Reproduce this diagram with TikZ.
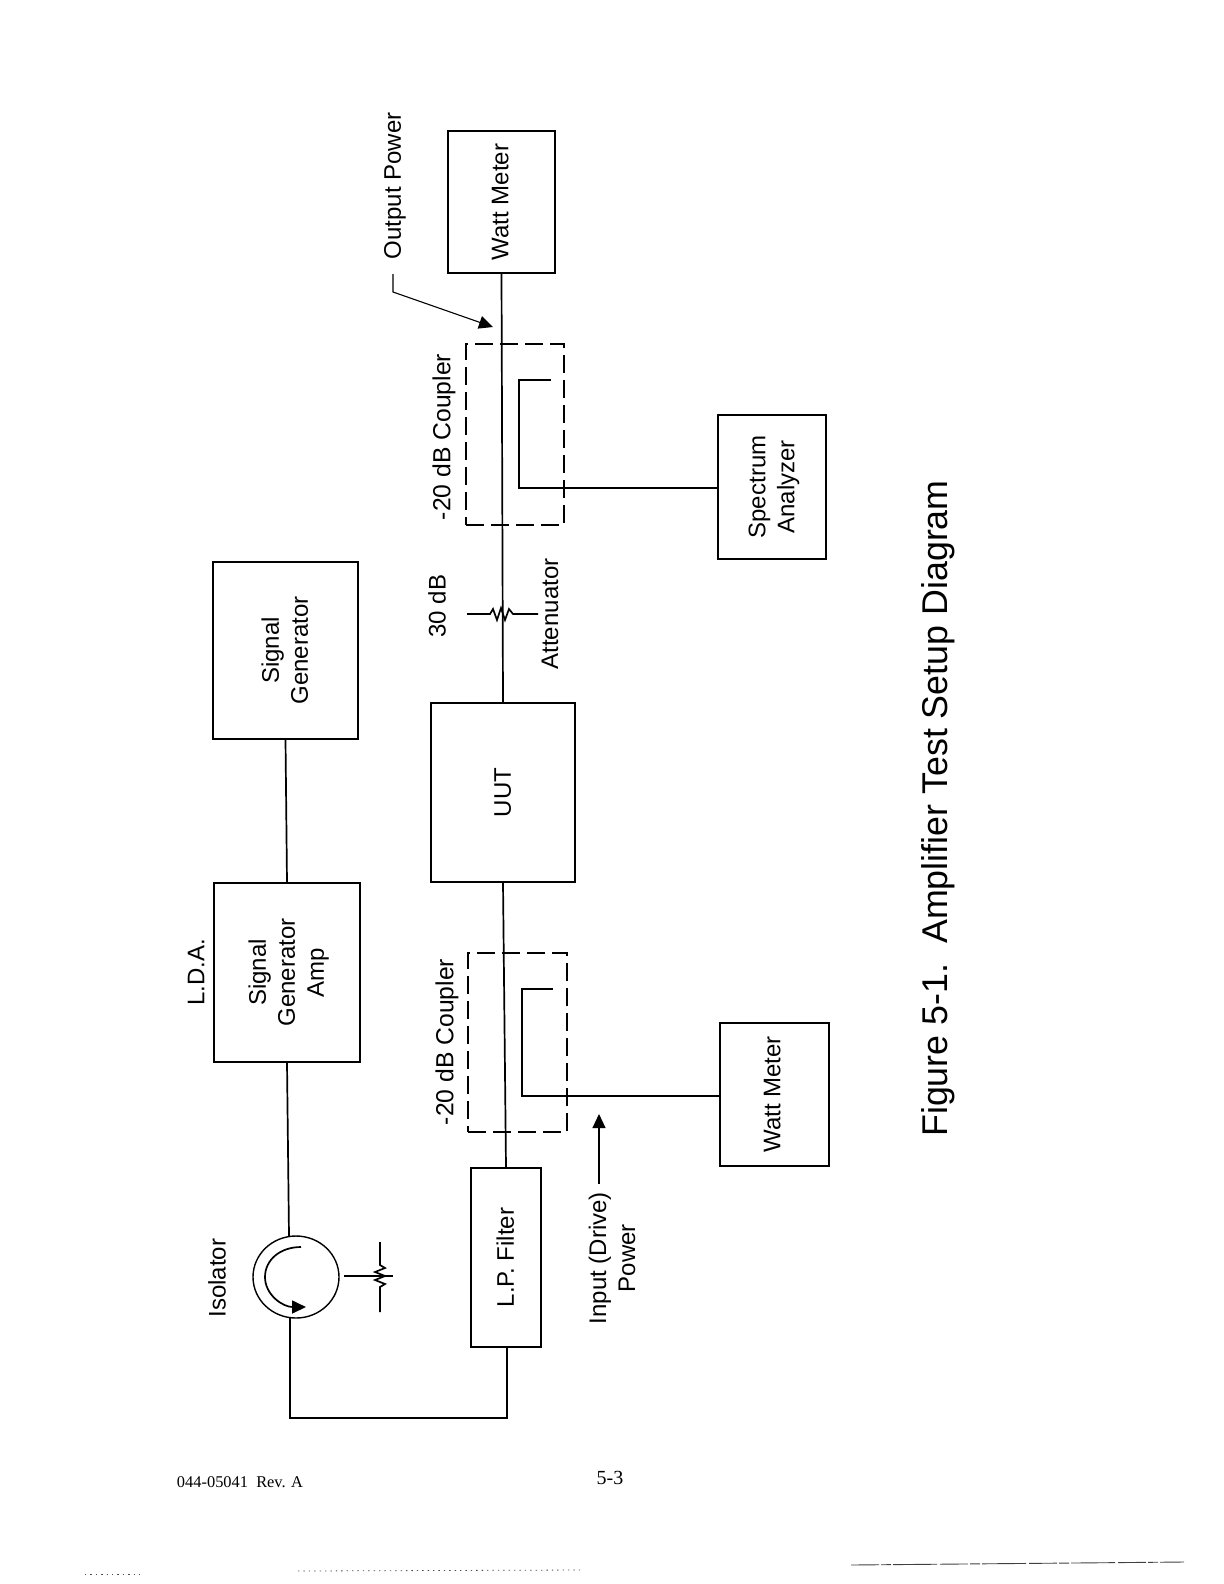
\documentclass[tikz,border=0pt]{standalone}
\usepackage{fontspec}
\setmainfont{Liberation Sans}
\newfontfamily\footfont{Liberation Serif}
\usetikzlibrary{arrows.meta}
\newcommand{\vtext}[2][2pt]{\kern#1\rotatebox{90}{\begin{tabular}{@{}c@{}}#2\end{tabular}}}
\tikzset{
  x=0.5pt,y=-0.5pt,
  wire/.style={line width=0.85pt,line join=miter},
  thinwire/.style={line width=0.55pt},
  box/.style={draw,line width=0.7pt,inner sep=0pt,font=\fontsize{12}{14.5}\selectfont},
  lab/.style={inner sep=0pt,font=\fontsize{12}{14.5}\selectfont},
  cplab/.style={inner sep=0pt,font=\fontsize{12.35}{14.5}\selectfont},
  couplerbox/.style={draw,line width=0.7pt,dash pattern=on 9pt off 3.5pt,inner sep=0pt},
  tip/.style={-{Triangle[length=7pt,width=6.5pt]}},
  noise/.style={line width=0.4pt,dash pattern=on 0.7pt off 2pt,black!70},
}
\begin{document}
\begin{tikzpicture}
\useasboundingbox (0,0) rectangle (1224,1584);
% boxes
\node[box,minimum width=72.5pt,minimum height=88.5pt] (siggen) at (285.5,650.5) {\vtext{Signal\\Generator}};
\node[box,minimum width=73pt,minimum height=89.5pt] (amp) at (287,972.5) {\vtext{Signal\\Generator\\Amp}};
\node[box,minimum width=35pt,minimum height=89.5pt] (lpf) at (506,1257.5) {\vtext[2pt]{L.P. Filter}};
\node[box,minimum width=72pt,minimum height=89.5pt] (uut) at (503,792.5) {\vtext{UUT}};
\node[box,minimum width=53.5pt,minimum height=71pt] (wmtop) at (501.5,202) {\vtext[1pt]{Watt Meter}};
\node[box,minimum width=54pt,minimum height=72pt] (sa) at (772,487) {\vtext{Spectrum\\Analyzer}};
\node[box,minimum width=54.5pt,minimum height=71.5pt] (wmlow) at (774.5,1094.5) {\vtext[0pt]{Watt Meter}};
\node[couplerbox,minimum width=49pt,minimum height=90.5pt] (cpltop) at (515,434.5) {};
\node[couplerbox,minimum width=49.5pt,minimum height=89.5pt] (cpllow) at (517.5,1042.5) {};
% isolator
\draw[line width=0.7pt] (296,1277) ellipse [x radius=43,y radius=41];
\coordinate (isoin) at (289,1236);
\coordinate (isoout) at (290,1318);
\coordinate (isobot) at (290,1418);
\coordinate (lpfbot) at (507,1347);
\coordinate (lpfcorner) at (507,1418);
\coordinate (isoarcstart) at (301,1247);
\draw[wire,tip] (isoarcstart) .. controls (280,1247) and (265,1260) .. (265,1277)
   .. controls (265,1295) and (283,1307) .. (306,1307);
% main connectors
\draw[wire] (siggen.south) -- (amp.north);
\draw[wire] (amp.south) -- (isoin);
\draw[wire] (isoout) -- (isobot) -- (lpfcorner) -- (lpfbot);
\draw[wire] (lpf.north) -- (uut.south);
\draw[wire] (uut.north) -- (wmtop.south);
% couplers' inner arms
\coordinate (topA) at (551,380);
\coordinate (topB) at (519,380);
\coordinate (topC) at (519,488);
\draw[wire] (topA) -- (topB) -- (topC) -- (sa.west |- topC);
\coordinate (lowA) at (553,989);
\coordinate (lowB) at (522,989);
\coordinate (lowC) at (522,1096);
\draw[wire] (lowA) -- (lowB) -- (lowC) -- (wmlow.west |- lowC);
% pointers
\coordinate (oplabelfoot) at (393,274);
\coordinate (opknee) at (393,292);
\coordinate (optip) at (493,327);
\draw[thinwire,tip] (oplabelfoot) -- (opknee) -- (optip);
\coordinate (inpfoot) at (599,1184);
\coordinate (inptip) at (599,1114);
\draw[thinwire,tip] (inpfoot) -- (inptip);
% attenuator
\coordinate (attL) at (467,614);
\coordinate (attR) at (538,614);
\draw[wire] (attL) -- (490,614) -- (493,609) -- (497,620) -- (501,608) -- (505,620) -- (509,609) -- (513,614) -- (attR);
% isolator load
\coordinate (loadL) at (344,1276);
\coordinate (loadR) at (393,1276);
\coordinate (loadT) at (380,1242);
\coordinate (loadB) at (380,1312);
\draw[thinwire] (loadL) -- (loadR);
\draw[wire] (loadT) -- (380,1265) -- (385,1268) -- (375,1272) -- (385,1276) -- (375,1280) -- (385,1284) -- (380,1287) -- (loadB);
% labels
\node[lab,rotate=90] (lda) at (196,972) {L.D.A.};
\node[lab,rotate=90] (isolabel) at (217,1278) {Isolator};
\node[lab,rotate=90] (oplabel) at (395,186) {Output Power};
\node[cplab,rotate=90] (cl1) at (444,437) {-20 dB Coupler};
\node[cplab,rotate=90] (cl2) at (447,1042) {-20 dB Coupler};
\node[lab,rotate=90] (db30) at (437,606) {30 dB};
\node[lab,rotate=90] (attlabel) at (550,614) {Attenuator};
\node[lab,rotate=90,align=center] (inplabel) at (612,1258) {Input (Drive)\\Power};
\node[inner sep=0pt,rotate=90,font=\fontsize{17.9}{21}\selectfont] (title) at (938,808.5) {Figure 5-1.\ \ Amplifier Test Setup Diagram};
\node[inner sep=0pt,font=\footfont\fontsize{8.2}{10}\selectfont] (docno) at (240,1482) {044-05041\ \ Rev. A};
\node[inner sep=0pt,font=\footfont\fontsize{10}{12}\selectfont] (pageno) at (610,1478) {5-3};
% scan residue
\coordinate (n1) at (851,1565); \coordinate (n2) at (1184,1562);
\draw[line width=0.45pt,dash pattern=on 14pt off 1pt on 5pt off 1pt on 22pt off 1.5pt,black!75] (n1) -- (n2);
\coordinate (n3) at (298,1571); \coordinate (n4) at (580,1570);
\draw[noise] (n3) -- (n4);
\coordinate (n5) at (85,1574); \coordinate (n6) at (142,1574);
\draw[noise] (n5) -- (n6);
\end{tikzpicture}
\end{document}
